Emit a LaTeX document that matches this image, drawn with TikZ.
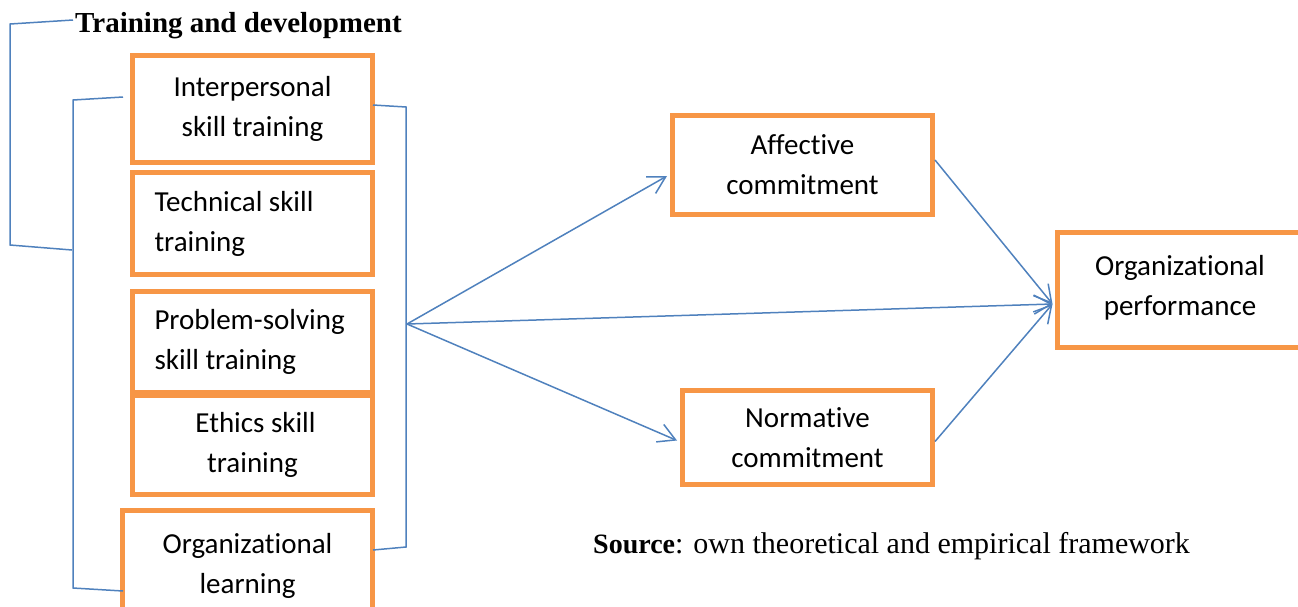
\documentclass[tikz,border=0pt]{standalone}
\usepackage{fontspec}
\setmainfont{Liberation Serif}
\newfontfamily\boxfont[Ligatures={NoCommon,NoContextual}]{Carlito}
\usepackage{xcolor}
\usepackage{tikz}
\usetikzlibrary{arrows.meta, positioning}

\definecolor{boxorange}{HTML}{F79646}
\definecolor{lineblue}{HTML}{4F81BD}

\begin{document}
\begin{tikzpicture}[
        x=1pt, y=-1pt,
        skill/.style={rectangle, draw=boxorange, line width=5pt, fill=white,
                      minimum width=240pt, inner sep=0pt, align=center,
                      font=\boxfont\fontsize{29}{40}\selectfont},
        leftskill/.style={skill, text width=196pt, align=flush left},
        outcome/.style={skill, minimum width=250pt},
        brace/.style={draw=lineblue, line width=1.5pt},
        arrow/.style={brace, -{Straight Barb[length=17pt, width=19pt, line width=1.5pt]}}
      ]

      \useasboundingbox (0,0) rectangle (1298,606);

      % --- Training and development dimensions ---
      \node (title) [anchor=base west, inner sep=0pt, font=\bfseries\fontsize{29}{35}\selectfont]
            at (75,32) {Training and development};
      \node (inter) [skill, minimum height=107pt] at (252.5,109) {Interpersonal\\skill training};
      \node (tech) [leftskill, minimum height=102pt, below=5pt of inter] {Technical skill\\training};
      \node (problem) [leftskill, minimum height=101pt, below=12pt of tech] {Problem-solving\\skill training};
      \node (ethics) [skill, minimum height=99pt, below=-2pt of problem] {\hspace*{6pt}Ethics skill\\training};
      \node (learning) [skill, minimum width=250pt, minimum height=110pt,
                        below=11pt of ethics, xshift=-5pt] {Organizational\\learning};

      % --- Commitment and performance ---
      \node (affective) [outcome, minimum width=260pt, minimum height=99pt] at (802.5,165) {Affective\\commitment};
      \node (normative) [outcome, minimum height=94pt] at (807.5,437.5) {Normative\\commitment};
      \node (perf) [outcome, minimum width=246pt, minimum height=115pt] at (1180,290)
            {Organizational\\performance\\[-30pt]\mbox{}};

      \node (source) [anchor=base west, inner sep=0pt] at (593,553)
            {\fontsize{28}{34}\selectfont\textbf{Source}\fontsize{30}{34}\selectfont: own theoretical and empirical framework};

      % --- Brackets grouping the dimensions ---
      \coordinate (outtop) at (73,20);
      \coordinate (hub) at (407,324);
      \draw [brace] (outtop) -- (10,24) -- (10,245) -- (72,250);
      \draw [brace] (123,97) -- (73,100) -- (73,588) -- (123,591);
      \draw [brace] (373,105) -- (406,107) -- (406,547) -- (373,550);

      % --- Arrows indicating the relations ---
      \coordinate (perfin) at ([shift={(-2,14)}]perf.west);
      \draw [arrow] (hub) -- ([shift={(-3,11)}]affective.west);
      \draw [arrow] (hub) -- ([shift={(-3,3)}]normative.west);
      \draw [arrow] (hub) -- (perfin);
      \draw [arrow] ([shift={(0,-5)}]affective.east) -- (perfin);
      \draw [arrow] ([shift={(0,4)}]normative.east) -- (perfin);

    \end{tikzpicture}
\end{document}
